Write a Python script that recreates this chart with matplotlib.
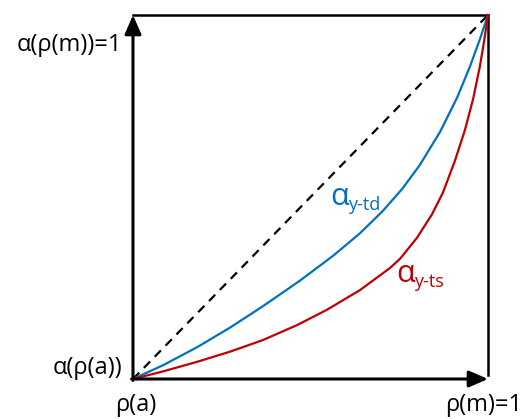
import matplotlib
matplotlib.use("Agg")
import matplotlib.pyplot as plt

# normalised rho (x) and alpha (y)
rho_td = [0.0, 0.085, 0.180, 0.273, 0.366, 0.470, 0.563, 0.639, 0.704, 0.758,
          0.808, 0.865, 0.913, 0.949, 0.977, 1.0]
alpha_td = [0.0, 0.038, 0.087, 0.141, 0.200, 0.270, 0.338, 0.400, 0.462, 0.522,
            0.588, 0.679, 0.773, 0.858, 0.933, 1.0]

rho_ts = [0.0, 0.085, 0.180, 0.273, 0.366, 0.462, 0.546, 0.639, 0.724, 0.752,
          0.800, 0.842, 0.873, 0.907, 0.935, 0.958, 0.977, 0.989, 1.0]
alpha_ts = [0.0, 0.021, 0.047, 0.075, 0.107, 0.148, 0.190, 0.244, 0.305, 0.330,
            0.388, 0.452, 0.512, 0.600, 0.684, 0.769, 0.858, 0.928, 1.0]

diag = [0.0, 1.0]

blue = "#0070C0"
red = "#C00000"
font = "Open Sans"

W, H = 525, 419
fig = plt.figure(figsize=(W / 100, H / 100), dpi=100)
ax = fig.add_axes([133 / W, 40 / H, 355 / W, 364 / H])
ax.set_xlim(0, 1)
ax.set_ylim(0, 1)
ax.axis("off")

# box: top and right edges
ax.plot([0, 1], [1, 1], color="black", lw=1.8, clip_on=False, solid_capstyle="projecting")
ax.plot([1, 1], [1, 0.012], color="black", lw=1.8, clip_on=False)

# axes with arrows
arrow = dict(arrowstyle="-|>,head_length=1.15,head_width=0.5", color="black", lw=2.2,
             shrinkA=0, shrinkB=0)
ax.annotate("", xy=(0, 1.0), xytext=(0, -0.004), arrowprops=arrow, annotation_clip=False)
ax.annotate("", xy=(1.0, 0), xytext=(-0.004, 0), arrowprops=arrow, annotation_clip=False)

ax.plot(diag, diag, color="black", lw=1.6, ls=(0, (4, 3)), clip_on=False)
ax.plot(rho_td, alpha_td, color=blue, lw=1.6, clip_on=False, solid_joinstyle="round")
ax.plot(rho_ts, alpha_ts, color=red, lw=1.6, clip_on=False, solid_joinstyle="round")

# curve labels
ax.text(0.555, 0.478, "α", color=blue, fontsize=22, family=font, ha="left", va="baseline")
ax.text(0.607, 0.465, "y-td", color=blue, fontsize=13, family=font, ha="left", va="baseline")
ax.text(0.741, 0.266, "α", color=red, fontsize=22, family=font, ha="left", va="baseline")
ax.text(0.793, 0.253, "y-ts", color=red, fontsize=13, family=font, ha="left", va="baseline")

# axis labels
ax.text(-0.03, 0.918, "α(ρ(m))=1", fontsize=17, family=font, ha="right", va="center")
ax.text(-0.03, 0.03, "α(ρ(a))", fontsize=17, family=font, ha="right", va="center")
ax.text(0.008, -0.072, "ρ(a)", fontsize=17, family=font, ha="center", va="center")
ax.text(1.096, -0.072, "ρ(m)=1", fontsize=17, family=font, ha="right", va="center")

fig.savefig("out.png", dpi=100)
